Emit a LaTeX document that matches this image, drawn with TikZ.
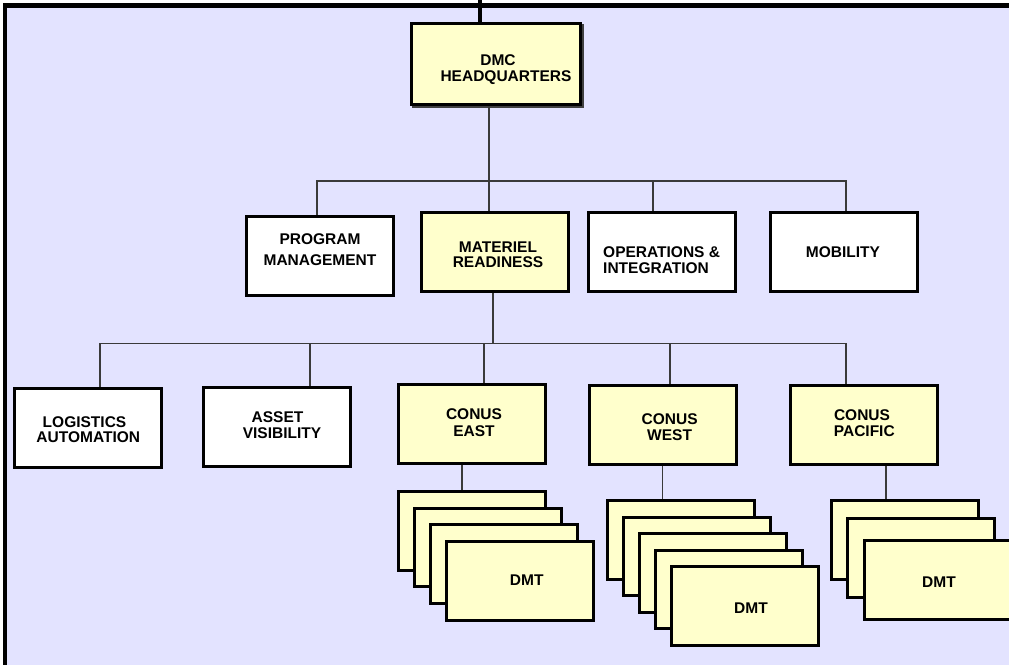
\documentclass[tikz,border=0pt]{standalone}
\usepackage{fontspec}
\setmainfont{Liberation Sans}
\usetikzlibrary{calc}
\definecolor{lav}{HTML}{E3E3FF}
\definecolor{pale}{HTML}{FFFFCC}
\definecolor{connc}{HTML}{3A3A3A}
\pgfdeclarelayer{back}
\pgfdeclarelayer{mid}
\pgfsetlayers{back,mid,main}
\begin{document}
\begin{tikzpicture}[x=1pt,y=-1pt,
  box/.style={draw=black, line width=3pt, minimum width=147pt, minimum height=79pt, inner sep=0pt},
  wbox/.style={box, fill=white},
  ybox/.style={box, fill=pale},
  card/.style={ybox, minimum width=147pt, minimum height=78.5pt},
  lbl/.style={font=\bfseries\fontsize{15.5}{16}\selectfont, align=center, inner sep=0pt},
  connline/.style={draw=connc, line width=1.3pt},
]
\useasboundingbox (0,0) rectangle (1009,664);

% boxes
\node[ybox, minimum width=169pt, minimum height=81pt] (hq) at (496,64) {};
\node[wbox] (pm) at (319.5,256) {};
\node[ybox] (mr) at (495,251.5) {};
\node[wbox] (ops) at (662,251.5) {};
\node[wbox] (mob) at (843.5,252) {};
\node[wbox] (la) at (87.5,428) {};
\node[wbox] (av) at (276.7,427) {};
\node[ybox] (ce) at (471.7,424.3) {};
\node[ybox] (cw) at (663,424.7) {};
\node[ybox] (cp) at (863.7,424.7) {};

% DMT cards
\node[card] (e1) at (472,530.8) {};
\node[card] (e2) at (488,547.5) {};
\node[card] (e3) at (504,564.2) {};
\node[card] (e4) at (520,580.9) {};
\node[card] (w1) at (680.7,539.8) {};
\node[card] (w2) at (696.8,556.3) {};
\node[card] (w3) at (712.9,572.8) {};
\node[card] (w4) at (729,589.3) {};
\node[card] (w5) at (745.1,605.8) {};
\node[card] (p1) at (905,540) {};
\node[card] (p2) at (921,558) {};
\node[card] (p3) at (937.7,580) {};

% labels
\node[lbl] (hqt) at (506,69.2) {DMC\hspace*{16pt}\\HEADQUARTERS};
\node[lbl] (pmt) at (320,250) {PROGRAM\\[4.7pt]MANAGEMENT};
\node[lbl] (mrt) at (498,254.5) {MATERIEL\\[-0.7pt]READINESS};
\node[lbl, align=left, anchor=west] (opst) at (603,259.7) {OPERATIONS \&\\INTEGRATION};
\node[lbl] (mobt) at (843,251.7) {MOBILITY};
\node[lbl] (lat) at (88.3,430) {LOGISTICS\hspace*{7.6pt}\\[-1pt]AUTOMATION};
\node[lbl] (avt) at (282,425.5) {ASSET\hspace*{9pt}\\VISIBILITY};
\node[lbl] (cet) at (474,422.8) {CONUS\\[0.7pt]EAST};
\node[lbl] (cwt) at (669.6,427.2) {CONUS\\[0.7pt]WEST};
\node[lbl] (cpt) at (864.3,422.8) {CONUS\hspace*{4.6pt}\\PACIFIC};
\node[lbl] (et) at (526.7,580) {DMT};
\node[lbl] (wt) at (751,607.7) {DMT};
\node[lbl] (pt) at (939,582.3) {DMT};

\begin{pgfonlayer}{back}
  \fill[white] (0,0) rectangle (1009,664);
  \draw[line width=4.3pt, fill=lav] (5,5.6) rectangle (1016,672);
\end{pgfonlayer}

\begin{pgfonlayer}{mid}
  % HQ shadow
  \fill[black!75] ($(hq.south west)+(1.8,1.8)$) rectangle ($(hq.north east)+(1.8,1.8)$);
  % top feed
  \coordinate (feed) at (480,0);
  \draw[line width=3.6pt] (feed) -- (feed |- hq.north);
  % level 2 bus
  \coordinate (b1) at (489,181);
  \coordinate (b1l) at (317,181);
  \coordinate (b1o) at (653,181);
  \coordinate (b1r) at (846,181);
  \draw[connline] (hq.south -| b1) -- (b1) -- (b1 |- mr.north);
  \draw[connline] (b1l |- pm.north) -- (b1l) -- (b1r) -- (b1r |- mob.north);
  \draw[connline] (b1o) -- (b1o |- ops.north);
  % level 3 bus
  \coordinate (b2) at (493,343.3);
  \coordinate (b2l) at (100,343.3);
  \coordinate (b2a) at (310,343.3);
  \coordinate (b2e) at (484,343.3);
  \coordinate (b2w) at (670,343.3);
  \coordinate (b2r) at (846,343.3);
  \draw[connline] (mr.south -| b2) -- (b2);
  \draw[connline] (b2l |- la.north) -- (b2l) -- (b2r) -- (b2r |- cp.north);
  \draw[connline] (b2a) -- (b2a |- av.north);
  \draw[connline] (b2e) -- (b2e |- ce.north);
  \draw[connline] (b2w) -- (b2w |- cw.north);
  % stems to DMT stacks
  \coordinate (se) at (462,0);
  \coordinate (sw) at (662.5,0);
  \coordinate (sp) at (886,0);
  \draw[connline] (ce.south -| se) -- (se |- e1.north);
  \draw[connline] (cw.south -| sw) -- (sw |- w1.north);
  \draw[connline] (cp.south -| sp) -- (sp |- p1.north);
\end{pgfonlayer}
\end{tikzpicture}
\end{document}
